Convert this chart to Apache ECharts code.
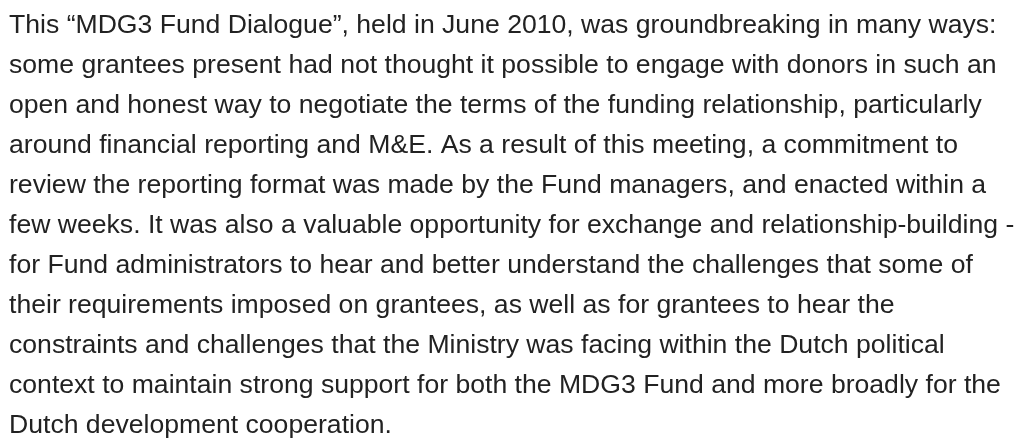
<!DOCTYPE html>
<html>
<head>
    <meta charset="UTF-8">
    <title>MDG3 Fund Dialogue</title>
    <script src="https://cdn.jsdelivr.net/npm/echarts@6/dist/echarts.min.js"></script>
    <style>
        html, body { margin: 0; padding: 0; background: #fff; }
    </style>
</head>
<body>
    <div id="main" style="width: 1020px; height: 438px;"></div>
    <script>
        // paragraph text, one entry per rendered line
        var lines = [
            'This \u201cMDG3 Fund Dialogue\u201d, held in June 2010, was groundbreaking in many ways:',
            'some grantees present had not thought it possible to engage with donors in such an',
            'open and honest way to negotiate the terms of the funding relationship, particularly',
            'around financial reporting and M&E. As a result of this meeting, a commitment to',
            'review the reporting format was made by the Fund managers, and enacted within a',
            'few weeks. It was also a valuable opportunity for exchange and relationship-building -',
            'for Fund administrators to hear and better understand the challenges that some of',
            'their requirements imposed on grantees, as well as for grantees to hear the',
            'constraints and challenges that the Ministry was facing within the Dutch political',
            'context to maintain strong support for both the MDG3 Fund and more broadly for the',
            'Dutch development cooperation.'
        ];

        var chart = echarts.init(document.getElementById('main'), null, { renderer: 'canvas' });

        var fontSize = 26.6;
        var lineHeight = 40;
        var firstBaseline = 34;

        var textEls = lines.map(function (t, i) {
            return {
                type: 'text',
                x: 9,
                y: firstBaseline + i * lineHeight - fontSize * 0.31,
                style: {
                    text: t,
                    fill: '#222222',
                    font: fontSize + 'px "Liberation Sans", Arial, sans-serif',
                    textAlign: 'left',
                    verticalAlign: 'middle',
                    textVerticalAlign: 'middle'
                }
            };
        });

        chart.setOption({
            backgroundColor: '#ffffff',
            animation: false,
            graphic: textEls
        });
    </script>
</body>
</html>
